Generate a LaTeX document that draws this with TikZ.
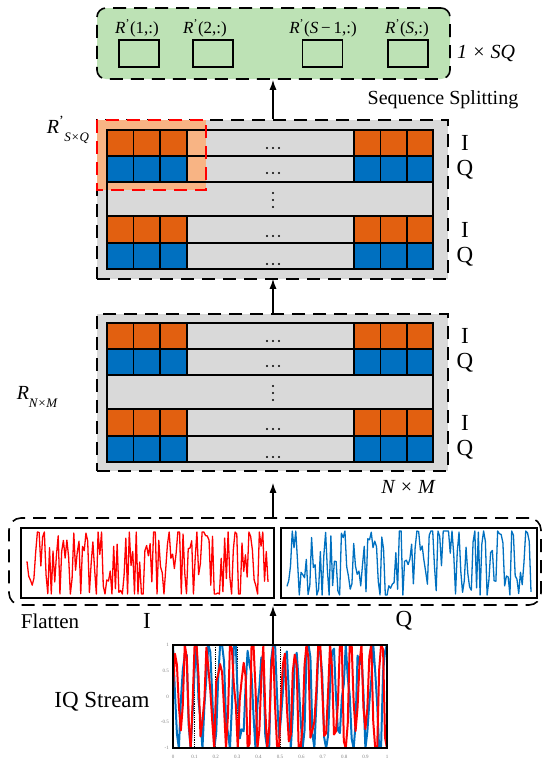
\documentclass[tikz,border=0pt]{standalone}
\usepackage{fontspec}
\setmainfont{Liberation Serif}
\usetikzlibrary{arrows.meta}
\definecolor{cor}{RGB}{226,96,16}
\definecolor{cbl}{RGB}{0,112,192}
\definecolor{cgr}{RGB}{217,217,217}
\definecolor{cgreen}{RGB}{189,226,181}
\definecolor{chl}{RGB}{248,180,132}
\newcommand{\iqmatrix}[1]{%
\begin{scope}[shift={(0,#1)}]
  \foreach \x in {107,133.5,160,354,380.5,407} {
    \fill[cor] (\x,0) rectangle ++(26.5,26);
    \fill[cbl] (\x,26) rectangle ++(26.5,26);
    \fill[cor] (\x,86) rectangle ++(26.5,27);
    \fill[cbl] (\x,113) rectangle ++(26.5,26);
  }
  \draw[mline] (107,0) rectangle (433,139);
  \foreach \y in {26,52,86,113} \draw[mline] (107,\y) -- (433,\y);
  \foreach \x in {133.5,160,187,354,380.5,407} {
    \draw[mline] (\x,0) -- (\x,52);
    \draw[mline] (\x,86) -- (\x,139);
  }
  \foreach \y in {18,43,106,134} \foreach \x in {267,273,279} \fill (\x,\y) circle (1.2);
  \foreach \y in {63,70,77} \fill (273,\y) circle (1.2);
  \node[iqlab] at (465,13) {I};
  \node[iqlab] at (465,40) {Q};
  \node[iqlab] at (465,100) {I};
  \node[iqlab] at (465,127) {Q};
\end{scope}}
\newcommand{\Rprime}{\textit{R}\textsuperscript{’}}
\begin{document}
\begin{tikzpicture}[x=1pt,y=-1pt,
  mline/.style={line width=1.5pt},
  dbox/.style={draw, line width=1.6pt, dash pattern=on 13pt off 8pt, inner sep=0pt},
  smallbox/.style={draw, line width=1.5pt, minimum width=40pt, minimum height=27pt, inner sep=0pt},
  arr/.style={line width=1.3pt, -{Latex[length=10pt,width=7pt]}},
  iqlab/.style={font=\fontsize{23}{23}\selectfont, inner sep=0pt},
  lab/.style={font=\fontsize{20}{20}\selectfont, inner sep=0pt},
  rlab/.style={font=\fontsize{17}{17}\selectfont, inner sep=0pt},
  tick/.style={font=\fontsize{5}{5}\selectfont, text=gray, inner sep=0pt}]
\useasboundingbox (0,0) rectangle (550,763);
\coordinate (ax) at (273,0);

% ---- top splitting box
\node[dbox, rounded corners=9pt, fill=cgreen, minimum width=353pt, minimum height=71pt] (split) at (273.5,43.5) {};
\node[smallbox] (s1) at (139,53.5) {};
\node[smallbox] (s2) at (213,53.5) {};
\node[smallbox] (s3) at (322.5,53.5) {};
\node[smallbox] (s4) at (408,53.5) {};
\node[rlab] (t1) at (137,28) {\Rprime(1,:)};
\node[rlab] (t2) at (205,28) {\Rprime(2,:)};
\node[rlab] (t3) at (323,28) {\Rprime(\textit{S}\,−\,1,:)};
\node[rlab] (t4) at (407,28) {\Rprime(\textit{S},:)};
\node[lab, font=\fontsize{20}{20}\selectfont\itshape] (sq) at (486,53) {1 × SQ};
\node[font=\fontsize{20}{20}\selectfont, inner sep=0pt] (seqs) at (443,100) {Sequence Splitting};

% ---- block 2 (after splitting)
\node[dbox, fill=cgr, minimum width=351pt, minimum height=159pt] (blk2) at (272.5,199.5) {};
\fill[chl] (97,120) rectangle (206,190);
\iqmatrix{130}
\draw[red, line width=1.6pt, dash pattern=on 13pt off 8pt] (97,120) rectangle (206,190);
\node[inner sep=0pt, font=\fontsize{20}{20}\selectfont] (rsq) at (68,130) {\textit{R}\textsuperscript{’}\raisebox{-0.9ex}{\fontsize{13}{13}\selectfont\itshape S×Q}};

% ---- block 3 (reshaped)
\node[dbox, fill=cgr, minimum width=351pt, minimum height=157pt] (blk3) at (272.5,392.5) {};
\iqmatrix{323}
\node[inner sep=0pt, font=\fontsize{20}{20}\selectfont] (rnm) at (37,397) {\textit{R}\raisebox{-0.9ex}{\fontsize{13}{13}\selectfont\itshape N×M}};
\node[lab, font=\fontsize{20}{20}\selectfont\itshape] (nm) at (408,487) {N × M};

% ---- flatten box
\node[dbox, rounded corners=12pt, minimum width=532pt, minimum height=87pt] (flat) at (275,561.5) {};
\node[draw, line width=1.5pt, minimum width=253pt, minimum height=70pt, inner sep=0pt] (ibox) at (147.5,563) {};
\node[draw, line width=1.5pt, minimum width=256pt, minimum height=70pt, inner sep=0pt] (qbox) at (409,563) {};
\pgfmathsetseed{11}
\draw[red, line width=1.3pt, line join=round] plot[domain=27:268, samples=140] (\x,{563-31*max(-1,min(1,1.4*rand))});
\pgfmathsetseed{23}
\draw[cbl, line width=1.3pt, line join=round] plot[domain=287:531, samples=140] (\x,{563-32*max(-1,min(1,1.4*rand))});
\node[font=\fontsize{21}{21}\selectfont, inner sep=0pt] (fl) at (50,621) {Flatten};
\node[iqlab] (li) at (147,621) {I};
\node[iqlab] (lq) at (404,621) {Q};

% ---- IQ stream plot
\node[draw, line width=1.2pt, minimum width=214pt, minimum height=103pt, inner sep=0pt] (iqplot) at (280,696.5) {};
\foreach \t in {0.1,0.2,0.3,0.5} \draw[densely dotted, line width=0.8pt] ({173+214*\t},645) -- ({173+214*\t},748);
\begin{scope}
\clip (173,645) rectangle (387,748);
\pgfmathsetseed{5}
\draw[cbl, line width=2pt, line join=round] plot[domain=0:214, samples=110] ({173+\x},{696.5-52*max(-1,min(1,1.1*sin(29*\x+50*sin(3*\x)+90)+0.5*rand))});
\pgfmathsetseed{7}
\draw[red, line width=2pt, line join=round] plot[domain=0:214, samples=110] ({173+\x},{696.5-52*max(-1,min(1,1.1*sin(33*\x+60*sin(4*\x))+0.5*rand))});
\end{scope}
\draw[line width=1.2pt] (173,645) rectangle (387,748);
\foreach \t/\l in {0/0,0.1/0.1,0.2/0.2,0.3/0.3,0.4/0.4,0.5/0.5,0.6/0.6,0.7/0.7,0.8/0.8,0.9/0.9,1/1}
  \node[tick] at ({173+214*\t},757) {\l};
\foreach \v/\l in {1/1,0.5/0.5,0/0,-0.5/-0.5,-1/-1}
  \node[tick, anchor=east] at (169,{696.5-51.5*\v}) {\l};
\node[font=\fontsize{23}{23}\selectfont, inner sep=0pt] (iqs) at (102,702) {IQ Stream};

% ---- arrows
\draw[arr] (iqplot.north -| ax) -- (flat.south -| ax);
\path (blk3.south -| ax) ++(0,11) coordinate (a3);
\draw[arr] (flat.north -| ax) -- (a3);
\draw[arr] (blk3.north -| ax) -- ([yshift=1pt]blk2.south -| ax);
\draw[arr] (blk2.north -| ax) -- (split.south -| ax);
\end{tikzpicture}
\end{document}
